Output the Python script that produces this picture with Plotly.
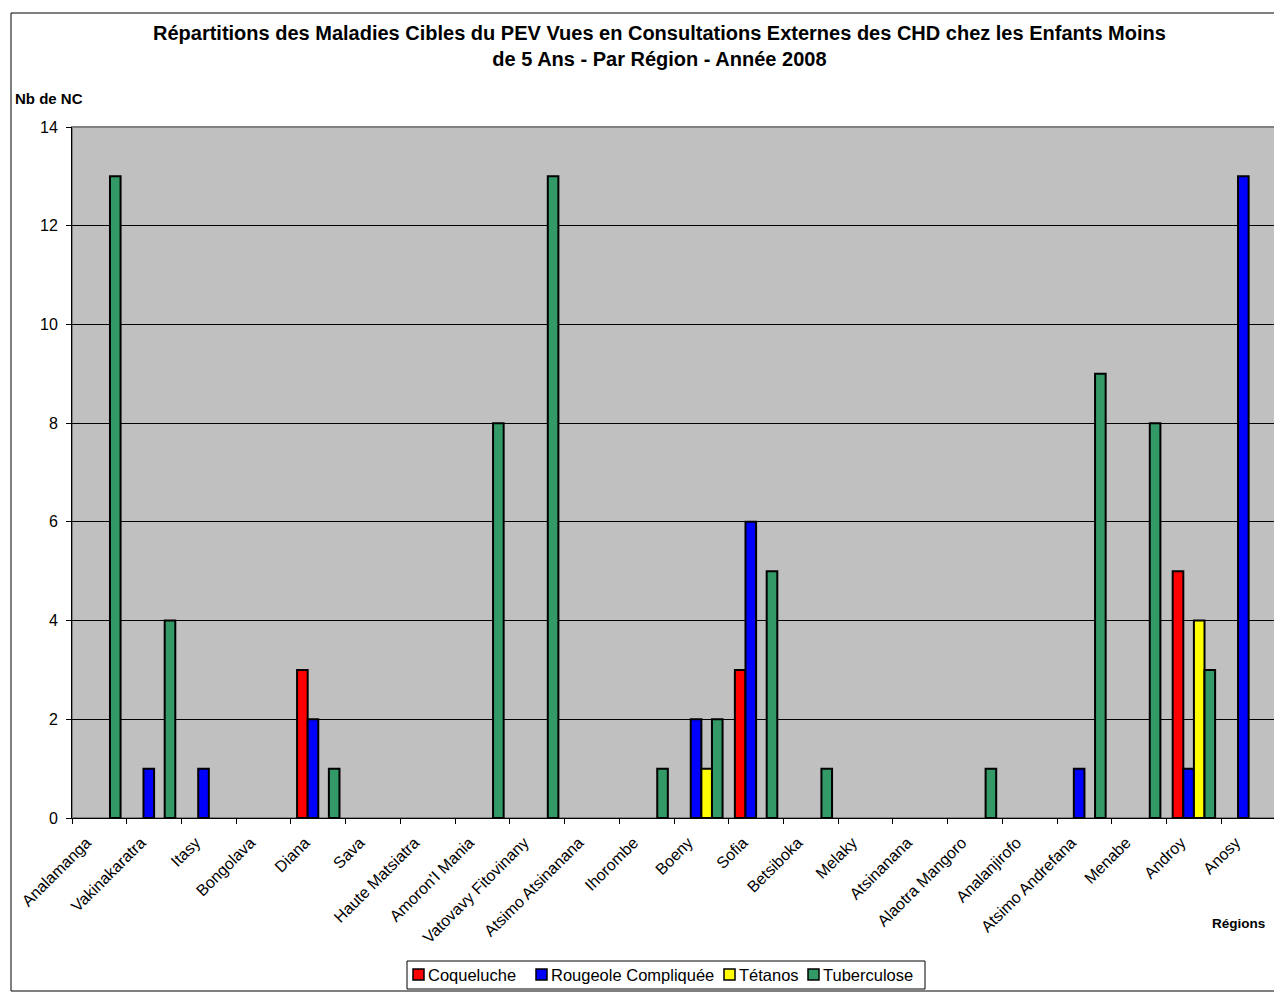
import plotly.graph_objects as go

regions = ["Analamanga", "Vakinakaratra", "Itasy", "Bongolava", "Diana", "Sava",
           "Haute Matsiatra", "Amoron'I Mania", "Vatovavy Fitovinany", "Atsimo Atsinanana",
           "Ihorombe", "Boeny", "Sofia", "Betsiboka", "Melaky", "Atsinanana",
           "Alaotra Mangoro", "Analanjirofo", "Atsimo Andrefana", "Menabe", "Androy", "Anosy"]

coqueluche = [0, 0, 0, 0, 3, 0, 0, 0, 0, 0, 0, 0, 3, 0, 0, 0, 0, 0, 0, 0, 5, 0]
rougeole   = [0, 1, 1, 0, 2, 0, 0, 0, 0, 0, 0, 2, 6, 0, 0, 0, 0, 0, 1, 0, 1, 13]
tetanos    = [0, 0, 0, 0, 0, 0, 0, 0, 0, 0, 0, 1, 0, 0, 0, 0, 0, 0, 0, 0, 4, 0]
tubercul   = [13, 4, 0, 0, 1, 0, 0, 8, 13, 0, 1, 2, 5, 1, 0, 0, 1, 0, 9, 8, 3, 0]

series_names = ["Coqueluche", "Rougeole Compliquée", "Tétanos", "Tuberculose"]
series_vals = [coqueluche, rougeole, tetanos, tubercul]
series_cols = ["#FF0000", "#0000FF", "#FFFF00", "#339966"]

FONT = "Arial, Liberation Sans, sans-serif"

fig = go.Figure()
for name, vals, col in zip(series_names, series_vals, series_cols):
    fig.add_trace(go.Bar(
        x=regions, y=[v if v else None for v in vals], name=name,
        marker=dict(color=col, line=dict(color="black", width=2)),
        showlegend=False,
    ))

# page has an 8px body margin: work in figure pixels
W, H = 1274, 984
L, R, T, B = 64, 6, 119, 174
pw = W - L - R
ph = H - T - B


def px(x):
    return (x - L) / pw


def py(y):
    return (H - B - y) / ph


fig.update_layout(
    width=W, height=H,
    margin=dict(l=L, r=R, t=T, b=B, autoexpand=False),
    paper_bgcolor="white",
    plot_bgcolor="#C0C0C0",
    barmode="group",
    bargap=0.225,
    bargroupgap=0,
    font=dict(family=FONT, size=16, color="black"),
    showlegend=False,
    xaxis=dict(
        type="category", tickangle=-45, tickson="boundaries",
        ticks="outside", ticklen=5, tickcolor="black",
        showline=True, linecolor="black", linewidth=1,
        showgrid=False, tickfont=dict(family=FONT, size=16),
        range=[-0.5, len(regions) - 0.5],
        ticklabelshift=-13, ticklabelstandoff=8,
    ),
    yaxis=dict(
        range=[0, 14], dtick=2, ticks="outside", ticklen=5, tickcolor="black",
        showline=True, linecolor="black", linewidth=1,
        showgrid=True, gridcolor="black", gridwidth=1,
        tickfont=dict(family=FONT, size=16), zeroline=False,
        ticklabelstandoff=5,
    ),
)

# title
fig.add_annotation(
    text="<b>Répartitions des Maladies Cibles du PEV Vues en Consultations Externes des CHD chez les Enfants Moins<br>de 5 Ans - Par Région - Année 2008</b>",
    xref="paper", yref="paper", x=px(651), y=py(38), xanchor="center", yanchor="middle",
    showarrow=False, align="center", font=dict(family=FONT, size=20))

# plot area border (grey) and chart border
fig.add_shape(type="rect", xref="paper", yref="paper", x0=0, y0=0, x1=1, y1=1,
              line=dict(color="#808080", width=2), layer="below")
fig.add_shape(type="rect", xref="paper", yref="paper",
              x0=px(3), y0=py(983), x1=px(1273), y1=py(5),
              line=dict(color="black", width=1))

fig.add_annotation(text="<b>Nb de NC</b>", xref="paper", yref="paper",
                   x=px(5), y=py(90), xanchor="left", yanchor="middle",
                   showarrow=False, font=dict(family=FONT, size=15))
fig.add_annotation(text="<b>Régions</b>", xref="paper", yref="paper",
                   x=px(1259), y=py(915), xanchor="right", yanchor="middle",
                   showarrow=False, font=dict(family=FONT, size=13.5))

# legend (drawn manually to match the compact layout)
leg_box = (399, 953, 917, 981)
fig.add_shape(type="rect", xref="paper", yref="paper",
              x0=px(leg_box[0]), y0=py(leg_box[3]), x1=px(leg_box[2]), y1=py(leg_box[1]),
              line=dict(color="black", width=1), fillcolor="white")
marker_x = [405, 528, 716, 800]
for name, col, mx in zip(series_names, series_cols, marker_x):
    fig.add_shape(type="rect", xref="paper", yref="paper",
                  x0=px(mx), y0=py(972), x1=px(mx + 11), y1=py(961),
                  line=dict(color="black", width=1.5), fillcolor=col)
    fig.add_annotation(text=name, xref="paper", yref="paper",
                       x=px(mx + 13), y=py(967), xanchor="left", yanchor="middle",
                       showarrow=False, font=dict(family=FONT, size=16.5))

fig.write_html("out.html")
